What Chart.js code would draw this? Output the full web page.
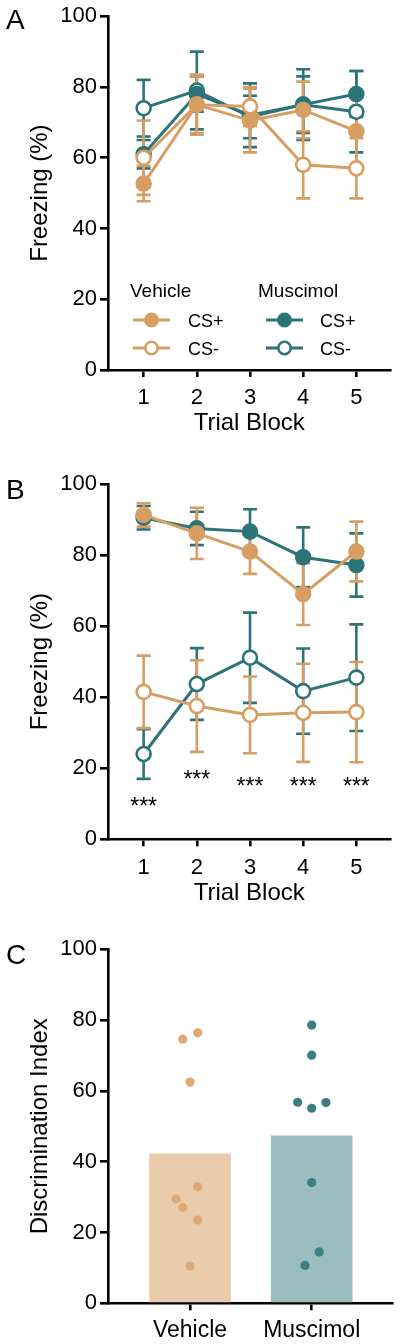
<!DOCTYPE html>
<html><head><meta charset="utf-8">
<script src="https://cdn.jsdelivr.net/npm/chart.js@4.4.1/dist/chart.umd.min.js"></script>
<style>
html,body{margin:0;padding:0;background:#fff;}
#wrap{position:relative;width:400px;height:1344px;overflow:hidden;background:#fff;}
canvas{position:absolute;left:0;}
</style></head><body>
<div id="wrap">
<canvas id="cA" width="400" height="455" style="top:0px"></canvas>
<canvas id="cB" width="400" height="470" style="top:455px"></canvas>
<canvas id="cC" width="400" height="419" style="top:925px"></canvas>
</div>
<script>
// ---------- data ----------
const trialBlocks = [1, 2, 3, 4, 5];
const yTicks = [0, 20, 40, 60, 80, 100];

// Panel A (mean, SEM)
const vehPlusA      = [52.7, 75.0, 70.5, 73.5, 67.5];
const vehPlusA_err  = [5.0, 8.0, 9.0, 8.0, 9.5];
const vehMinusA     = [60.0, 75.0, 74.5, 58.0, 57.0];
const vehMinusA_err = [10.5, 8.5, 5.5, 9.5, 8.5];
const musPlusA      = [61.0, 78.0, 72.0, 75.0, 78.0];
const musPlusA_err  = [4.0, 5.0, 9.0, 8.0, 6.5];
const musMinusA     = [74.0, 79.0, 71.5, 75.0, 73.0];
const musMinusA_err = [8.0, 11.0, 6.0, 10.0, 11.5];

// Panel B (mean, SEM)
const vehPlusB      = [91.3, 86.1, 81.0, 69.0, 81.0];
const vehPlusB_err  = [3.3, 7.2, 6.3, 8.7, 8.4];
const vehMinusB     = [41.5, 37.5, 35.0, 35.6, 35.8];
const vehMinusB_err = [10.2, 12.9, 10.8, 13.8, 14.1];
const musPlusB      = [90.5, 87.5, 86.6, 79.4, 77.2];
const musPlusB_err  = [3.3, 4.7, 6.3, 8.4, 8.9];
const musMinusB     = [24.0, 43.7, 51.1, 41.7, 45.5];
const musMinusB_err = [7.0, 10.1, 12.7, 12.0, 15.0];
const starLabels    = ['***', '***', '***', '***', '***'];
const starY         = [10.6, 18.3, 16.4, 16.4, 16.4];

// Panel C
const groups     = ['Vehicle', 'Muscimol'];
const groupMeans = [42.2, 47.3];
const vehDots    = [74.6, 76.4, 62.5, 32.9, 29.5, 27.1, 23.5, 10.5];
const vehJitter  = [-0.06, 0.063, 0, 0.063, -0.115, -0.06, 0.063, 0];
const musDots    = [78.6, 70.1, 56.8, 55.1, 56.7, 34.1, 14.5, 10.7];
const musJitter  = [0, 0, -0.115, 0, 0.117, 0, 0.062, -0.055];

// ---------- style ----------
const F = "'Liberation Sans', Arial, Helvetica, sans-serif";
const ORANGE = '#D69E63';
const TEAL = '#2D7479';
const BAR_VEH = '#EACBAB';
const BAR_MUS = '#9BBDBF';
const DOT_VEH = '#E0A974';
const DOT_MUS = '#3D7E82';

Chart.defaults.animation = false;
Chart.defaults.font.family = F;
Chart.defaults.color = '#000';

function xy(vals, xs) { return vals.map((v, i) => ({x: xs[i], y: v})); }

function lineDs(label, vals, color, filled) {
  return {
    label, data: xy(vals, trialBlocks), borderColor: color, backgroundColor: color,
    borderWidth: 3, tension: 0, pointRadius: 7, pointHoverRadius: 7,
    pointBackgroundColor: filled ? color : '#fff', pointBorderColor: color, pointBorderWidth: 2.6
  };
}

function errPlugin(sets) {
  return {
    id: 'errbars',
    beforeDatasetsDraw(chart) {
      const {ctx, scales: {x, y}} = chart;
      ctx.save();
      ctx.lineWidth = 2.6;
      sets.forEach(s => {
        ctx.strokeStyle = s.color;
        s.mean.forEach((m, i) => {
          const px = x.getPixelForValue(trialBlocks[i]);
          const y1 = y.getPixelForValue(m + s.err[i]);
          const y2 = y.getPixelForValue(m - s.err[i]);
          ctx.beginPath();
          ctx.moveTo(px, y1); ctx.lineTo(px, y2);
          ctx.moveTo(px - 7, y1); ctx.lineTo(px + 7, y1);
          ctx.moveTo(px - 7, y2); ctx.lineTo(px + 7, y2);
          ctx.stroke();
        });
      });
      ctx.restore();
    }
  };
}

function letterPlugin(letter, baseY) {
  return {
    id: 'letter',
    afterDraw(chart) {
      const ctx = chart.ctx;
      ctx.save();
      ctx.fillStyle = '#000';
      ctx.font = '28px ' + F;
      ctx.textAlign = 'left';
      ctx.textBaseline = 'alphabetic';
      ctx.fillText(letter, 6, baseY);
      ctx.restore();
    }
  };
}

const legendPlugin = {
  id: 'grpLegend',
  afterDraw(chart) {
    const ctx = chart.ctx;
    ctx.save();
    ctx.fillStyle = '#000';
    ctx.font = '19px ' + F;
    ctx.textBaseline = 'alphabetic';
    ctx.fillText('Vehicle', 130, 297);
    ctx.fillText('Muscimol', 258, 297);
    const rows = [
      {x0: 133, c: ORANGE, filled: true, y: 320, t: 'CS+', tx: 188},
      {x0: 133, c: ORANGE, filled: false, y: 348, t: 'CS-', tx: 188},
      {x0: 266, c: TEAL, filled: true, y: 320, t: 'CS+', tx: 320},
      {x0: 266, c: TEAL, filled: false, y: 348, t: 'CS-', tx: 320}
    ];
    rows.forEach(r => {
      ctx.strokeStyle = r.c; ctx.lineWidth = 3;
      ctx.beginPath(); ctx.moveTo(r.x0, r.y); ctx.lineTo(r.x0 + 37, r.y); ctx.stroke();
      ctx.beginPath(); ctx.arc(r.x0 + 18.5, r.y, 6.2, 0, Math.PI * 2);
      ctx.fillStyle = r.filled ? r.c : '#fff'; ctx.fill();
      ctx.lineWidth = 2.6; ctx.stroke();
      ctx.fillStyle = '#000'; ctx.font = '18px ' + F;
      ctx.fillText(r.t, r.tx, r.y + 6.5);
    });
    ctx.restore();
  }
};

const starPlugin = {
  id: 'stars',
  afterDatasetsDraw(chart) {
    const {ctx, scales: {x, y}} = chart;
    ctx.save();
    ctx.fillStyle = '#000';
    ctx.font = '23px ' + F;
    ctx.textAlign = 'center';
    ctx.textBaseline = 'alphabetic';
    starLabels.forEach((t, i) => {
      const m = ctx.measureText(t);
      const off = (m.actualBoundingBoxAscent - m.actualBoundingBoxDescent) / 2;
      ctx.fillText(t, x.getPixelForValue(trialBlocks[i]), y.getPixelForValue(starY[i]) + off);
    });
    ctx.restore();
  }
};

function axisCommon(tickLen) {
  return {
    border: {display: true, color: '#000', width: 2.6},
    grid: {display: true, offset: false, drawOnChartArea: false, drawTicks: true, tickLength: tickLen, color: '#000', lineWidth: 2.6}
  };
}

function yScale(title) {
  return Object.assign(axisCommon(8), {
    type: 'linear', min: 0, max: 100,
    afterBuildTicks: s => { s.ticks = yTicks.map(v => ({value: v})); },
    afterFit: s => { s.width = 108; },
    ticks: {color: '#000', font: {family: F, size: 22}, padding: 3},
    title: {display: true, text: title, color: '#000', font: {family: F, size: 24}, padding: {top: 26, bottom: 0}}
  });
}

function lineChart(id, padTop, xH, datasets, errSets, extraPlugins) {
  return new Chart(document.getElementById(id), {
    type: 'line',
    data: {datasets},
    options: {
      responsive: false, devicePixelRatio: 1,
      layout: {padding: {top: padTop, right: 8, left: 0, bottom: 0}},
      plugins: {legend: {display: false}, tooltip: {enabled: false}},
      scales: {
        x: Object.assign(axisCommon(7), {
          type: 'linear', min: 0.33, max: 5.64,
          afterBuildTicks: s => { s.ticks = trialBlocks.map(v => ({value: v})); },
          afterFit: s => { s.height = xH; },
          ticks: {color: '#000', font: {family: F, size: 22}, padding: 8, maxRotation: 0, autoSkip: false},
          title: {display: true, text: 'Trial Block', color: '#000', font: {family: F, size: 24}, padding: {top: 0, bottom: 17}}
        }),
        y: yScale('Freezing (%)')
      }
    },
    plugins: [errPlugin(errSets)].concat(extraPlugins)
  });
}

// Panel A
lineChart('cA', 15, 85, [
  lineDs('Vehicle CS+', vehPlusA, ORANGE, true),
  lineDs('Vehicle CS-', vehMinusA, ORANGE, false),
  lineDs('Muscimol CS+', musPlusA, TEAL, true),
  lineDs('Muscimol CS-', musMinusA, TEAL, false)
], [
  {mean: musPlusA, err: musPlusA_err, color: TEAL},
  {mean: musMinusA, err: musMinusA_err, color: TEAL},
  {mean: vehPlusA, err: vehPlusA_err, color: ORANGE},
  {mean: vehMinusA, err: vehMinusA_err, color: ORANGE}
], [legendPlugin, letterPlugin('A', 29)]);

// Panel B
lineChart('cB', 29, 85.7, [
  lineDs('Vehicle CS+', vehPlusB, ORANGE, true),
  lineDs('Vehicle CS-', vehMinusB, ORANGE, false),
  lineDs('Muscimol CS+', musPlusB, TEAL, true),
  lineDs('Muscimol CS-', musMinusB, TEAL, false)
], [
  {mean: musPlusB, err: musPlusB_err, color: TEAL},
  {mean: musMinusB, err: musMinusB_err, color: TEAL},
  {mean: vehPlusB, err: vehPlusB_err, color: ORANGE},
  {mean: vehMinusB, err: vehMinusB_err, color: ORANGE}
], [starPlugin, letterPlugin('B', 499 - 455)]);

// Panel C
new Chart(document.getElementById('cC'), {
  type: 'bar',
  data: {
    datasets: [
      {type: 'scatter', label: 'Vehicle', data: vehDots.map((v, i) => ({x: 1 + vehJitter[i], y: v})),
        pointRadius: 4.6, pointBorderWidth: 0, backgroundColor: DOT_VEH, borderColor: DOT_VEH, order: 1},
      {type: 'scatter', label: 'Muscimol', data: musDots.map((v, i) => ({x: 2 + musJitter[i], y: v})),
        pointRadius: 4.6, pointBorderWidth: 0, backgroundColor: DOT_MUS, borderColor: DOT_MUS, order: 1},
      {type: 'bar', label: 'Mean', data: groupMeans.map((v, i) => ({x: i + 1, y: v})),
        backgroundColor: [BAR_VEH, BAR_MUS], borderWidth: 0, barThickness: 81, order: 2}
    ]
  },
  options: {
    responsive: false, devicePixelRatio: 1,
    layout: {padding: {top: 24.3, right: 8, left: 0, bottom: 0}},
    plugins: {legend: {display: false}, tooltip: {enabled: false}},
    scales: {
      x: Object.assign(axisCommon(7), {
        type: 'linear', min: 0.326, max: 2.66, offset: false,
        afterBuildTicks: s => { s.ticks = groups.map((g, i) => ({value: i + 1})); },
        afterFit: s => { s.height = 40.7; },
        ticks: {color: '#000', font: {family: F, size: 23}, padding: 7, maxRotation: 0, autoSkip: false,
          callback: v => groups[v - 1]}
      }),
      y: yScale('Discrimination Index')
    }
  },
  plugins: [letterPlugin('C', 964 - 925)]
});
</script>
</body></html>
